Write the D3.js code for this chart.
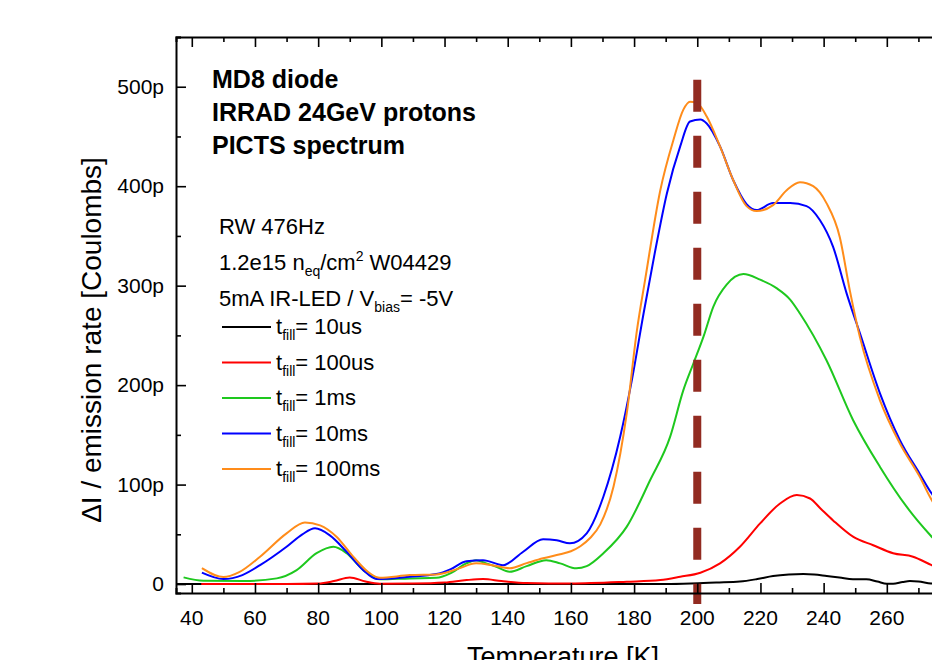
<!DOCTYPE html>
<html>
<head>
<meta charset="utf-8">
<script src="https://cdn.jsdelivr.net/npm/d3@7"></script>
<style>
  body { margin: 0; background: #fff; }
  svg { display: block; font-family: "Liberation Sans", Arial, sans-serif; }
</style>
</head>
<body>
<div id="chart"></div>
<script>
// PICTS spectrum, values in pC (p)
const seriesNames = ["10us", "100us", "1ms", "10ms", "100ms"];
const seriesColors = ["#000000", "#ff0000", "#1ec81e", "#0000ff", "#ff8c1a"];

const black10us = [[35,0],[60,0],[100,0],[150,0],[190,0],[198,0.5],[206,1.5],[213.5,2.5],[219,5],[224,8],[229,9.5],[233.6,10],[237,9.5],[241,8],[245,6.5],[249.3,4.7],[253.5,4.7],[257,2.5],[260,0.3],[262,0.3],[265,2],[267.3,3],[270,2.5],[274,0.5],[278,0]];
const red100us = [[43,0],[70,0],[80,0.5],[85,3],[90,6.7],[95,2.5],[99.5,0.3],[110,0.5],[120,1.5],[127,4],[132.2,5],[138,3],[146,1],[160,0.5],[177.7,2.3],[188.3,4],[194.6,7.3],[201,11.4],[207.2,20.8],[213.5,37.5],[219.9,61],[226.2,81],[231.5,89.5],[235.7,86],[239,76],[243,64],[249.3,47.6],[255.7,39],[262,31],[268.3,27.5],[274.2,19],[278,14]];
const green1ms = [[37.4,6.7],[43.7,3.3],[56.3,3],[66.9,5.7],[73.2,14],[79.5,31],[84.8,37.5],[89,31],[94.3,14],[99.5,4.7],[109,5.7],[117.4,6.3],[122,11],[126.9,20.8],[130,24],[133,21],[136.4,17.4],[140.6,12.4],[146,18],[152.2,24],[156.6,20.8],[161.7,15.8],[165,18],[170.3,31],[177.7,57.7],[185.1,104.6],[191.4,148],[195.6,195],[198.8,222],[202,249],[205.1,279],[209.3,301],[214.6,311.6],[219.9,306],[225.1,297.5],[229.4,286],[232.5,272],[240.9,225],[249.3,165],[257.8,118],[266.2,78],[274.2,47.6],[278,35]];
const blue10ms = [[43.2,11.4],[50,5],[56,9],[61.6,19],[70,37.5],[75,50],[79,56],[83.7,49],[89,32.5],[94.3,14],[98.5,5],[109,7.3],[117.4,10],[122,15],[126.9,23],[132.2,24],[138.5,19],[144.9,32.5],[151.2,45],[155.5,44],[159.7,41],[165,51],[170.3,88],[175.6,148],[179.3,205],[183,272],[186.5,332],[190.4,393],[194.6,440],[197.7,465],[201,467],[203,463],[207.2,440],[211.4,406],[215.6,382],[218.8,376],[224,383],[229.4,383],[234.6,380],[238.8,366],[243,339],[247.3,292],[251.5,252],[257.8,192],[264.1,145],[270.4,111],[274.2,91],[278,76]];
const orange100ms = [[43.2,16],[50,7],[55,12],[61.6,27.5],[70,51],[75.8,62],[80.6,59],[85.8,47.6],[91.1,27.5],[96.4,10.7],[99.5,6.3],[109,9],[117.4,9.7],[124,15],[130,20.8],[135,19],[140.6,15.8],[146,21],[151.2,25.9],[156.6,30],[160,33],[163,38],[166,46],[169.3,60],[173.5,98],[177.7,172],[180.9,255],[183.5,306],[188.3,396],[192.5,447],[195.6,477],[197.7,485],[199.8,484],[203,470],[207.2,440],[211.4,406],[215.6,380],[218.8,375],[224,381],[228.3,396],[232.5,404],[236.7,400],[240.9,383],[245.1,349],[248.3,295],[251.5,248],[257.8,185],[264.1,141.5],[270.4,108],[274.2,84.5],[278,68]];
const seriesData = [black10us, red100us, green1ms, blue10ms, orange100ms];

const xTicksMajor = [40, 60, 80, 100, 120, 140, 160, 180, 200, 220, 240, 260, 280];
const yTicksMajor = [0, 100, 200, 300, 400, 500];
const markerT = 200;
const markerSpan = [-20, 507];

const titleLines = ["MD8 diode", "IRRAD 24GeV protons", "PICTS spectrum"];

const W = 932, H = 660;
const margin = { left: 176, top: 37, right: 950, bottom: 593 };

const svg = d3.select("#chart").append("svg").attr("width", W).attr("height", H);

const x = d3.scaleLinear().domain([35, 280]).range([margin.left, margin.right]);
const y = d3.scaleLinear().domain([-9, 550]).range([margin.bottom, margin.top]);

svg.append("clipPath").attr("id", "plotclip")
    .append("rect")
    .attr("x", margin.left).attr("y", margin.top)
    .attr("width", margin.right - margin.left).attr("height", margin.bottom - margin.top);

// curves
const line = d3.line()
    .x(d => x(d[0]))
    .y(d => y(d[1]))
    .curve(d3.curveMonotoneX);

const curves = svg.append("g").attr("clip-path", "url(#plotclip)");
seriesData.forEach((s, i) => {
    curves.append("path")
        .attr("d", line(s))
        .attr("fill", "none")
        .attr("stroke", seriesColors[i])
        .attr("stroke-width", 2);
});

// dashed marker at 200K
svg.append("line")
    .attr("x1", x(markerT)).attr("x2", x(markerT))
    .attr("y1", y(markerSpan[1])).attr("y2", y(markerSpan[0]))
    .attr("stroke", "#922b21")
    .attr("stroke-width", 8)
    .attr("stroke-dasharray", "32,24");

// axes (ticks inward)
const xMinor = d3.range(40, 281, 10);
const yMinor = d3.range(0, 551, 50);

const bottomAx = svg.append("g").attr("transform", "translate(0," + margin.bottom + ")");
bottomAx.call(d3.axisBottom(x).tickValues(xMinor).tickSize(-5).tickFormat(""));
bottomAx.call(g => g.selectAll(".tick line").filter(d => d % 20 === 0).attr("y2", -10));

const topAx = svg.append("g").attr("transform", "translate(0," + margin.top + ")");
topAx.call(d3.axisTop(x).tickValues(xMinor).tickSize(-5).tickFormat(""));
topAx.call(g => g.selectAll(".tick line").filter(d => d % 20 === 0).attr("y2", 10));

const leftAx = svg.append("g").attr("transform", "translate(" + margin.left + ",0)");
leftAx.call(d3.axisLeft(y).tickValues(yMinor).tickSize(-5).tickFormat(""));
leftAx.call(g => g.selectAll(".tick line").filter(d => d % 100 === 0).attr("x2", 10));

const rightAx = svg.append("g").attr("transform", "translate(" + margin.right + ",0)");
rightAx.call(d3.axisRight(y).tickValues(yMinor).tickSize(-5).tickFormat(""));

[bottomAx, topAx, leftAx, rightAx].forEach(g => {
    g.selectAll(".domain").attr("stroke", "#000").attr("stroke-width", 2);
    g.selectAll(".tick line").attr("stroke", "#000").attr("stroke-width", 1.6);
});

// tick labels
svg.append("g").selectAll("text")
    .data(xTicksMajor)
    .enter().append("text")
    .attr("x", d => x(d))
    .attr("y", margin.bottom + 32)
    .attr("text-anchor", "middle")
    .attr("font-size", "21px")
    .text(d => d);

svg.append("g").selectAll("text")
    .data(yTicksMajor)
    .enter().append("text")
    .attr("x", margin.left - 12)
    .attr("y", d => y(d) + 7)
    .attr("text-anchor", "end")
    .attr("font-size", "21px")
    .text(d => d === 0 ? "0" : d + "p");

// axis titles
svg.append("text")
    .attr("x", (margin.left + margin.right) / 2)
    .attr("y", 666)
    .attr("text-anchor", "middle")
    .attr("font-size", "27px")
    .text("Temperature [K]");

svg.append("text")
    .attr("transform", "translate(101," + 340 + ")rotate(-90)")
    .attr("text-anchor", "middle")
    .attr("font-size", "28px")
    .text("\u0394I / emission rate [Coulombs]");

// title block
svg.append("g").selectAll("text")
    .data(titleLines)
    .enter().append("text")
    .attr("x", 212)
    .attr("y", (d, i) => 88 + i * 33)
    .attr("font-size", "25px")
    .attr("font-weight", "bold")
    .text(d => d);

// info lines
const info = svg.append("g").attr("font-size", "22px");
info.append("text").attr("x", 219).attr("y", 234).text("RW 476Hz");

const l2 = info.append("text").attr("x", 219).attr("y", 270);
l2.append("tspan").text("1.2e15 n");
l2.append("tspan").attr("font-size", "14px").attr("dy", 6).text("eq");
l2.append("tspan").attr("dy", -6).text("/cm");
l2.append("tspan").attr("font-size", "14px").attr("dy", -9).text("2");
l2.append("tspan").attr("dy", 9).text(" W04429");

const l3 = info.append("text").attr("x", 219).attr("y", 306);
l3.append("tspan").text("5mA IR-LED / V");
l3.append("tspan").attr("font-size", "14px").attr("dy", 6).text("bias");
l3.append("tspan").attr("dy", -6).text("= -5V");

// legend
const legend = svg.append("g").attr("font-size", "22px");
seriesNames.forEach((name, i) => {
    const ly = 327 + i * 35.5;
    legend.append("line")
        .attr("x1", 222).attr("x2", 271)
        .attr("y1", ly).attr("y2", ly)
        .attr("stroke", seriesColors[i])
        .attr("stroke-width", 2);
    const t = legend.append("text").attr("x", 276).attr("y", ly + 7);
    t.append("tspan").text("t");
    t.append("tspan").attr("font-size", "14px").attr("dy", 6).text("fill");
    t.append("tspan").attr("dy", -6).text("= " + name);
});
</script>
</body>
</html>
